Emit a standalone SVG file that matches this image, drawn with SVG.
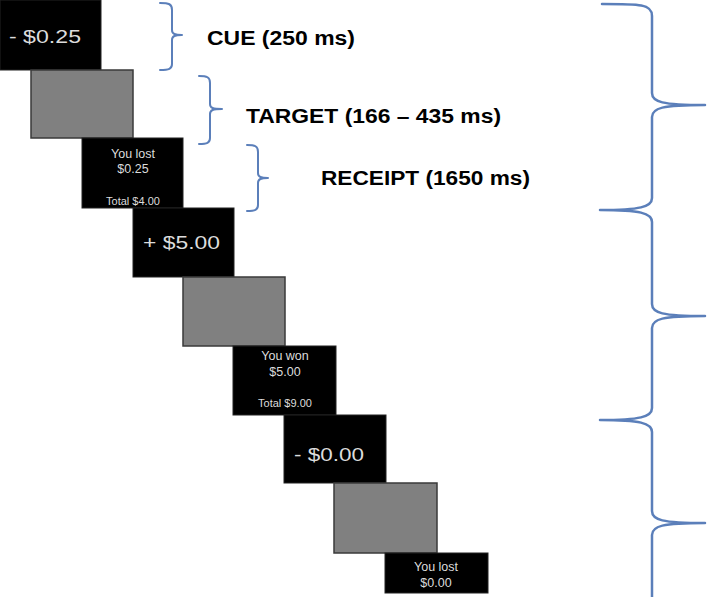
<svg xmlns="http://www.w3.org/2000/svg" width="708" height="597" viewBox="0 0 708 597">
<style>
.blk{fill:#000;stroke:#222;stroke-width:1}
.gry{fill:#808080;stroke:#3a3a3a;stroke-width:1.5}
.cue{font-family:"Liberation Sans",Arial,sans-serif;font-size:18px;fill:#dcdcdc}
.rc{font-family:"Liberation Sans",Arial,sans-serif;font-size:12.5px;fill:#dcdcdc;text-anchor:middle}
.tot{font-family:"Liberation Sans",Arial,sans-serif;font-size:11px;fill:#dcdcdc;text-anchor:middle}
.lbl{font-family:"Liberation Sans",Arial,sans-serif;font-size:20px;font-weight:bold;fill:#000}
.br{fill:none;stroke:#5b7fba;stroke-width:2;stroke-linecap:round;stroke-linejoin:round}
.bb{fill:none;stroke:#5b7fba;stroke-width:2.5;stroke-linecap:round;stroke-linejoin:round}
</style>
<rect width="708" height="597" fill="#fff"/>
<g id="cue1"><rect class="blk" x="0" y="0" width="101" height="70"/><text class="cue" x="9" y="43" textLength="72" lengthAdjust="spacingAndGlyphs">- $0.25</text></g>
<g id="target1"><rect class="gry" x="31" y="70" width="102" height="68"/></g>
<g id="receipt1"><rect class="blk" x="82" y="138" width="101" height="70"/><text class="rc" x="133" y="158">You lost</text><text class="rc" x="133" y="173">$0.25</text><text class="tot" x="133" y="205">Total $4.00</text></g>
<g id="cue2"><rect class="blk" x="133" y="208" width="101" height="69"/><text class="cue" x="143" y="249" textLength="77" lengthAdjust="spacingAndGlyphs">+ $5.00</text></g>
<g id="target2"><rect class="gry" x="183" y="277" width="102" height="69"/></g>
<g id="receipt2"><rect class="blk" x="233" y="346" width="103" height="69"/><text class="rc" x="285" y="360">You won</text><text class="rc" x="285" y="376">$5.00</text><text class="tot" x="285" y="407">Total $9.00</text></g>
<g id="cue3"><rect class="blk" x="284" y="415" width="102" height="68"/><text class="cue" x="294" y="461" textLength="70" lengthAdjust="spacingAndGlyphs">- $0.00</text></g>
<g id="target3"><rect class="gry" x="334" y="483" width="103" height="70"/></g>
<g id="receipt3"><rect class="blk" x="385" y="553" width="103" height="40"/><text class="rc" x="436" y="571">You lost</text><text class="rc" x="436" y="587">$0.00</text></g>
<g id="labels">
<text class="lbl" x="207" y="45" textLength="148" lengthAdjust="spacingAndGlyphs">CUE (250 ms)</text>
<text class="lbl" x="246" y="123" textLength="255" lengthAdjust="spacingAndGlyphs">TARGET (166 – 435 ms)</text>
<text class="lbl" x="321" y="185" textLength="209" lengthAdjust="spacingAndGlyphs">RECEIPT (1650 ms)</text>
</g>
<g id="connectors">
<path class="br" d="M160,3 C169,3 172,4 172,10 L172,30 C172,34 175,35 182,35 C175,35 172,36 172,40 L172,64 C172,69 169,70 160,70"/>
<path class="br" d="M199,76 C207,76 210,77 210,83 L210,104 C210,108 213,109 222,109 C213,109 210,110 210,114 L210,138 C210,143 207,144 199,144"/>
<path class="br" d="M247,145 C255,145 258,146 258,152 L258,173 C258,177 261,178 268,178 C261,178 258,179 258,183 L258,205 C258,210 255,211 247,211"/>
<path class="bb" d="M602,4 C640,4 652,4 652,16 L652,93 C652,102 662,105 705,105 C662,105 652,108 652,117 L652,198 C652,207 640,210 600,210 C640,210 652,213 652,222 L652,304 C652,313 662,316 705,316 C662,316 652,319 652,328 L652,408 C652,417 640,420 600,420 C640,420 652,423 652,432 L652,511 C652,520 662,523 705,523 C662,523 652,526 652,535 L652,597"/>
</g>
</svg>
